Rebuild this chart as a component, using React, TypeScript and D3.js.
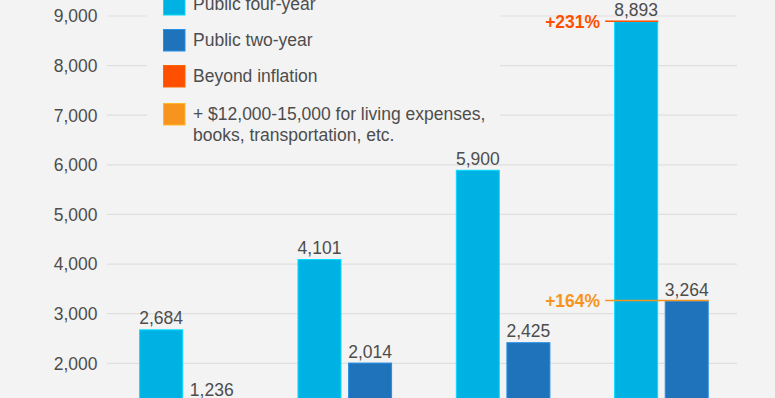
import React from "react";
import * as d3 from "d3";

const categories = ["1984-85", "1994-95", "2004-05", "2014-15"];
const publicFourYear = [2684, 4101, 5900, 8893];
const publicTwoYear = [1236, 2014, 2425, 3264];
const seriesNames = ["Public four-year", "Public two-year"];
const yTicks = [2000, 3000, 4000, 5000, 6000, 7000, 8000, 9000];
const legendLabels = [
  ["Public four-year"],
  ["Public two-year"],
  ["Beyond inflation"],
  ["+ $12,000-15,000 for living expenses,", "books, transportation, etc."],
];
const annotationLabels = ["+231%", "+164%"];

const W = 775;
const H = 398;
const BG = "#f3f3f3";
const GRID = "#dfdfdf";
const TEXT = "#4d4d4d";
const LIGHT = "#00b2e3";
const DARK = "#1f73ba";
const RED = "#ff5000";
const ORANGE = "#f7941d";
const legendColors = [LIGHT, DARK, RED, ORANGE];
const annotationColors = [RED, ORANGE];
const FONT = "'Liberation Sans', Arial, Helvetica, sans-serif";

export default function App() {
  const y = d3.scaleLinear().domain([0, 9000]).range([462.5, 16]);
  const x0 = d3.scaleBand<string>().domain(categories).range([107.3, 740.6]).padding(0);
  const gw = x0.bandwidth();
  const x1 = d3
    .scaleBand<string>()
    .domain(seriesNames)
    .range([gw / 2 - 47.3, gw / 2 + 47.3])
    .paddingInner(0.13)
    .paddingOuter(0);
  const bw = x1.bandwidth();
  const seriesValues = [publicFourYear, publicTwoYear];
  const fs = 17.5;

  const lastCat = categories[categories.length - 1];
  const lastIdx = categories.length - 1;
  const annoStart = (x0(lastCat) as number) + (x1(seriesNames[0]) as number) - 9;

  return (
    <svg
      width={W}
      height={H}
      style={{ position: "absolute", left: 0, top: 0, background: BG }}
      fontFamily={FONT}
    >
      <rect x={0} y={0} width={W} height={H} fill={BG} />
      {yTicks.map((t) => (
        <g key={t}>
          <line x1={107} x2={737} y1={y(t)} y2={y(t)} stroke={GRID} strokeWidth={1.2} />
          <text x={97.5} y={y(t)} dy="0.36em" textAnchor="end" fontSize={fs} fill={TEXT}>
            {d3.format(",")(t)}
          </text>
        </g>
      ))}
      {categories.map((c, ci) => (
        <g key={c} transform={`translate(${x0(c)},0)`}>
          {seriesNames.map((s, si) => {
            const v = seriesValues[si][ci];
            const col = si === 0 ? LIGHT : DARK;
            const bx = x1(s) as number;
            return (
              <g key={s}>
                <rect
                  x={bx + 0.5}
                  y={y(v) + 0.5}
                  width={bw - 1}
                  height={y(0) - y(v)}
                  fill={col}
                  stroke={d3.color(col)!.brighter(0.6).formatHex()}
                  strokeWidth={1}
                />
                <text
                  x={bx + bw / 2}
                  y={y(v) - 5}
                  textAnchor="middle"
                  fontSize={fs}
                  fill={TEXT}
                >
                  {d3.format(",")(v)}
                </text>
              </g>
            );
          })}
        </g>
      ))}
      {seriesNames.map((s, si) => {
        const v = seriesValues[si][lastIdx];
        const right = (x0(lastCat) as number) + (x1(s) as number) + bw;
        return (
          <g key={"a" + s}>
            <line
              x1={annoStart}
              x2={right}
              y1={y(v)}
              y2={y(v)}
              stroke={annotationColors[si]}
              strokeWidth={1.5}
            />
            <text
              x={annoStart - 5}
              y={y(v)}
              dy="0.36em"
              textAnchor="end"
              fontSize={fs}
              fontWeight="bold"
              fill={annotationColors[si]}
            >
              {annotationLabels[si]}
            </text>
          </g>
        );
      })}
      <rect x={147} y={0} width={353} height={150} fill={BG} />
      {legendLabels.map((lines, i) => {
        const top = [-7, 29, 65, 103][i];
        const col = legendColors[i];
        return (
          <g key={i}>
            <rect
              x={163.5}
              y={top + 0.5}
              width={21.5}
              height={21.5}
              fill={col}
              stroke={d3.color(col)!.brighter(0.6).formatHex()}
              strokeWidth={1}
            />
            {lines.map((l, li) => (
              <text key={li} x={193} y={top + 17 + li * 21} fontSize={fs} fill={TEXT}>
                {l}
              </text>
            ))}
          </g>
        );
      })}
    </svg>
  );
}
